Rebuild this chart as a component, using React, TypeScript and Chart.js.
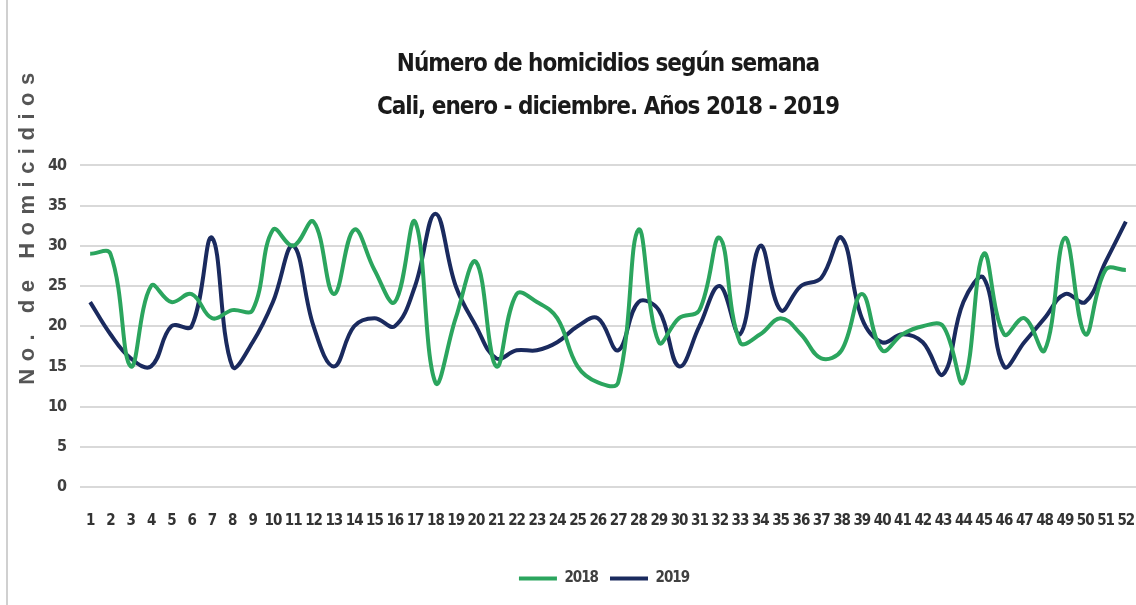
import React, { useEffect, useRef } from "react";
import { Chart, registerables } from "chart.js";

Chart.register(...registerables);

const weeks = ["1","2","3","4","5","6","7","8","9","10","11","12","13","14","15","16","17","18","19","20","21","22","23","24","25","26","27","28","29","30","31","32","33","34","35","36","37","38","39","40","41","42","43","44","45","46","47","48","49","50","51","52"];

const values2018 = [29,29,15,25,23,24,21,22,22,32,30,33,24,32,27,23,33,13,21,28,15,24,23,21,15,13,13,32,18,21,22,31,18,19,21,19,16,17,24,17,19,20,20,13,29,19,21,17,31,19,27,27];
const values2019 = [23,19,16,15,20,20,31,15,18,23,30,20,15,20,21,20,25,34,25,20,16,17,17,18,20,21,17,23,22,15,20,25,19,30,22,25,26,31,21,18,19,18,14,23,26,15,18,21,24,23,28,33];

const yTicks = [0, 5, 10, 15, 20, 25, 30, 35, 40];

const titleLines = ["Número de homicidios según semana", "Cali, enero - diciembre. Años 2018 - 2019"];
const yTitle = "No. de Homicidios";
const seriesNames = ["2018", "2019"];

const FONT = '"DejaVu Sans Condensed", "Liberation Sans Narrow", "Arial Narrow", sans-serif';

const condensePlugin = {
  id: "condensePlugin",
  beforeDraw(chart: any) {
    (chart.ctx as any).letterSpacing = "-1px";
  },
};

const yTitlePlugin = {
  id: "yTitlePlugin",
  afterDraw(chart: any) {
    const ctx = chart.ctx;
    ctx.save();
    ctx.translate(28, 225);
    ctx.rotate(-Math.PI / 2);
    ctx.font = 'bold 22px "Liberation Sans", Arial, sans-serif';
    (ctx as any).letterSpacing = "7.5px";
    ctx.fillStyle = "#555555";
    ctx.textAlign = "center";
    ctx.textBaseline = "middle";
    ctx.fillText(yTitle, 0, 0);
    ctx.restore();
  },
};

export default function App() {
  const ref = useRef<HTMLCanvasElement>(null);
  useEffect(() => {
    if (!ref.current) return;
    const chart = new Chart(ref.current, {
      type: "line",
      data: {
        labels: weeks,
        datasets: [
          {
            label: seriesNames[0],
            data: values2018,
            borderColor: "#2ba55e",
            backgroundColor: "#2ba55e",
            borderWidth: 4,
            pointRadius: 0,
            tension: 0.4,
            fill: false,
          },
          {
            label: seriesNames[1],
            data: values2019,
            borderColor: "#1a2a5e",
            backgroundColor: "#1a2a5e",
            borderWidth: 4,
            pointRadius: 0,
            tension: 0.4,
            fill: false,
          },
        ],
      },
      plugins: [condensePlugin, yTitlePlugin],
      options: {
        animation: false,
        responsive: false,
        maintainAspectRatio: false,
        layout: { padding: { left: 0, right: 0, top: 43, bottom: 9 } },
        plugins: {
          title: {
            display: true,
            fullSize: false,
            text: titleLines,
            color: "#1a1a1a",
            font: { family: FONT, size: 24, weight: "bold", lineHeight: 1.8 },
            padding: { top: 0, bottom: 36 },
          },
          legend: {
            position: "bottom",
            fullSize: false,
            labels: {
              usePointStyle: true,
              pointStyle: "line",
              pointStyleWidth: 38,
              boxWidth: 38,
              color: "#404040",
              font: { family: FONT, size: 15, weight: "bold" },
              padding: 12,
            },
          },
          tooltip: { enabled: false },
        },
        scales: {
          x: {
            offset: true,
            grid: { display: false },
            border: { display: false },
            afterFit: (s: any) => {
              s.height = s.height + 12;
              s.paddingLeft = 0;
              s.paddingRight = 0;
            },
            ticks: {
              color: "#333333",
              font: { family: FONT, size: 15, weight: "bold" },
              maxRotation: 0,
              autoSkip: false,
              padding: 17,
            },
          },
          y: {
            min: 0,
            max: 40,
            afterFit: (s: any) => { s.width = 80; },
            afterBuildTicks: (s: any) => { s.ticks = yTicks.map((v) => ({ value: v })); },
            grid: { color: "#d9d9d9", lineWidth: 2, drawTicks: false },
            border: { display: false },
            ticks: {
              color: "#404040",
              font: { family: FONT, size: 16, weight: "bold" },
              padding: 14,
            },
          },
        },
      },
    });
    return () => chart.destroy();
  }, []);
  return (
    <div style={{ position: "fixed", left: 0, top: 0, width: 1136, height: 605, background: "#fff" }}>
      <div style={{ position: "absolute", left: 6, top: 0, width: 2, height: 605, background: "#d0d0d0" }} />
      <canvas ref={ref} width={1136} height={605} style={{ position: "absolute", left: 0, top: 0 }} />
    </div>
  );
}
